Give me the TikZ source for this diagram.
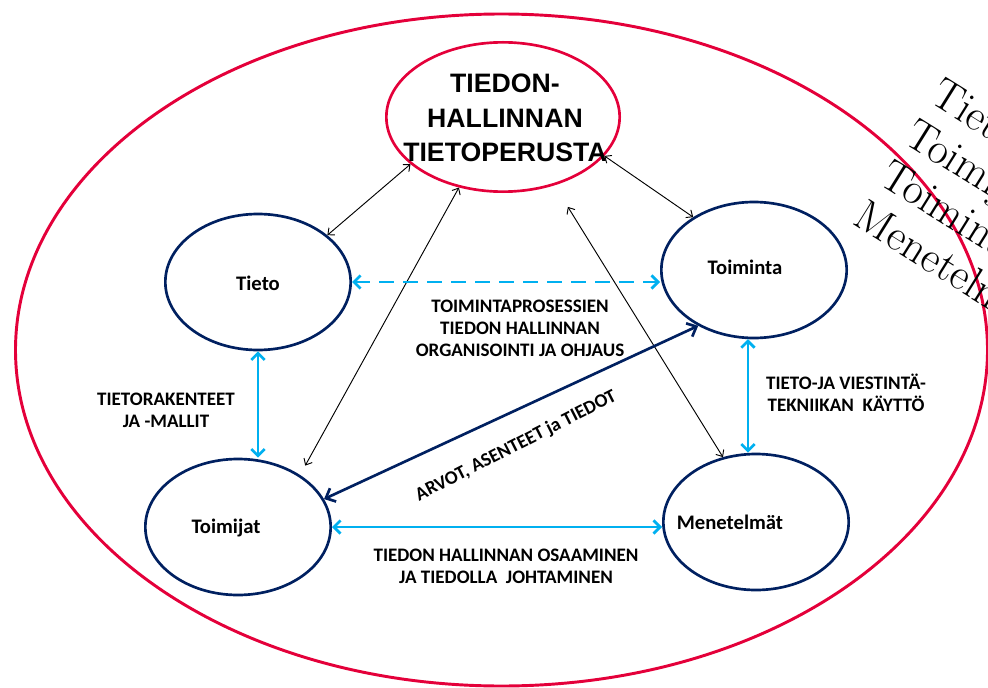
\documentclass[tikz,border=0pt]{standalone}
\usepackage{fontspec}
\usetikzlibrary{arrows.meta,shapes.geometric}
\newfontfamily\lblfont{Carlito}
\newfontfamily\capfont{Liberation Sans}
\definecolor{framered}{RGB}{228,0,58}
\definecolor{navyblue}{RGB}{0,32,96}
\definecolor{skyblue}{RGB}{0,176,240}

\begin{document}
\begin{tikzpicture}[x=0.75pt,y=-0.75pt,
    topic/.style={ellipse,draw=navyblue,line width=2pt,minimum width=139pt,minimum height=102pt,inner sep=0pt},
    topictext/.style={font=\lblfont\bfseries\fontsize{15.5}{18}\selectfont},
    note/.style={align=center,font=\lblfont\bfseries\fontsize{14.3}{16.5}\selectfont},
    link/.style={line width=0.7pt,{Straight Barb[length=4pt,width=7pt]}-{Straight Barb[length=4pt,width=7pt]}},
    flow/.style={skyblue,line width=2pt,{Straight Barb[length=5pt,width=10pt]}-{Straight Barb[length=5pt,width=10pt]}},
    bond/.style={navyblue,line width=2pt,{Straight Barb[length=6pt,width=11pt]}-{Straight Barb[length=6pt,width=11pt]}}]
  \useasboundingbox (0,0) rectangle (988,688);
  \clip (0,0) rectangle (988,688);

  % outer frame
  \draw[framered,line width=2.2pt] (501.5,350) ellipse [x radius=486,y radius=336];

  % centre and the four corners
  \node[ellipse,draw=framered,line width=2pt,minimum width=175pt,minimum height=112pt,inner sep=0pt] (base) at (503,117) {};
  \node[align=center,font=\capfont\bfseries\fontsize{20}{26}\selectfont] (baseText) at (505,118) {TIEDON-\\HALLINNAN\\TIETOPERUSTA};

  \node[topic] (tieto) at (258,282) {};
  \node[topictext] (tietoText) at (258,283) {Tieto};
  \node[topic] (toiminta) at (754,270) {};
  \node[topictext] (toimintaText) at (745,267) {Toiminta};
  \node[topic] (toimijat) at (238,527) {};
  \node[topictext] (toimijatText) at (226,528) {Toimijat};
  \node[topic] (menetelmat) at (756,522) {};
  \node[topictext] (menetelmatText) at (730,522) {Menetelmät};

  % connectors
  \draw[link] (tieto.34) -- (base.207);
  \draw[link,shorten <=8pt] (toimijat.40) -- (base.238);
  \draw[link] (base.339) -- (toiminta.139);
  \draw[link,shorten <=19pt] (base.307) -- (menetelmat.117);

  \draw[flow,dash pattern=on 11pt off 7pt] (tieto.east) -- (tieto.east -| toiminta.west);
  \draw[flow] (tieto.south) -- (tieto.south |- toimijat.north);
  \draw[flow] (toiminta.265) -- (toiminta.265 |- menetelmat.north);
  \draw[flow] (toimijat.east) -- (toimijat.east -| menetelmat.west);
  \draw[bond] (toimijat.18) -- (toiminta.225);

  % texts on the links
  \node[note] (structures) at (166,410) {TIETORAKENTEET\\JA -MALLIT};
  \node[note] (processes) at (520,328) {TOIMINTAPROSESSIEN\\TIEDON HALLINNAN\\ORGANISOINTI JA OHJAUS};
  \node[note] (ict) at (846,393) {TIETO-JA VIESTINTÄ-\\TEKNIIKAN\ \ KÄYTTÖ};
  \node[note] (skills) at (506,566) {TIEDON HALLINNAN OSAAMINEN\\JA TIEDOLLA\ \ JOHTAMINEN};
  \node[note,rotate=27] (values) at (516,446) {ARVOT, ASENTEET ja TIEDOT};

  \node[rotate=-32,anchor=north west,align=left,inner sep=0pt,font=\fontsize{33}{36}\selectfont] (legend) at (944,76) {Tieto\\Toimijat\\Toiminta\\Menetelmät};
\end{tikzpicture}
\end{document}
